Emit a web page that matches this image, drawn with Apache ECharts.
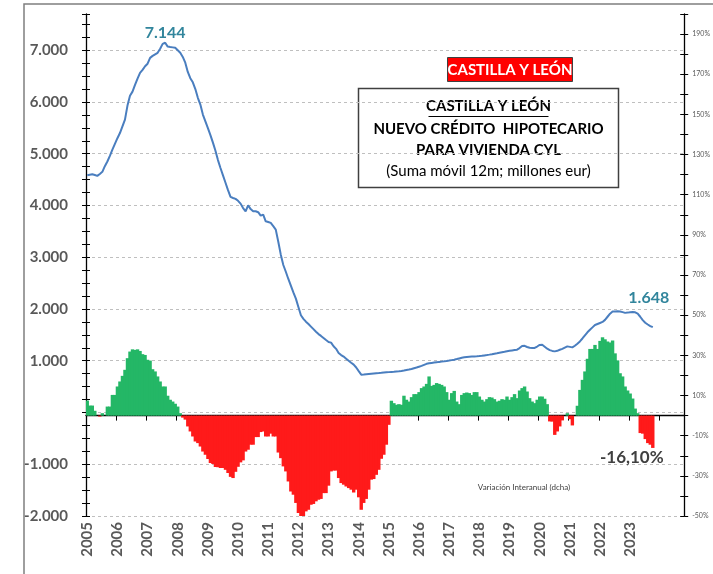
<!DOCTYPE html>
<html>
<head>
<meta charset="utf-8">
<script src="https://cdn.jsdelivr.net/npm/echarts@6/dist/echarts.min.js"></script>
<style>html,body{margin:0;padding:0;background:#fff}#chart{width:713px;height:574px}</style>
</head>
<body>
<div id="chart"></div>
<script>
// eje mensual ene-2005 .. oct-2024 (datos hasta oct-2023)
var months = [];
for (var y = 2005; y <= 2024; y++) {
	for (var m = 1; m <= 12; m++) {
		if (months.length < 238) months.push(y + '-' + (m < 10 ? '0' + m : m));
	}
}

// nuevo credito hipotecario, suma movil 12m (millones eur)
var credit = [
	4583,4595,4603,4590,4572,4610,4650,4760,4850,4960,5080,5190,
	5300,5400,5530,5660,5930,6120,6200,6330,6450,6563,6620,6690,
	6740,6853,6890,6920,6950,7030,7123,7144,7070,7062,7055,7046,
	7000,6950,6870,6760,6580,6460,6380,6250,6080,5950,5757,5626,
	5495,5360,5215,5059,4877,4725,4583,4440,4296,4166,4145,4127,
	4090,4036,3950,3888,4004,3930,3888,3888,3870,3804,3824,3694,
	3680,3663,3600,3534,3300,3050,2850,2720,2580,2450,2320,2200,
	2040,1880,1810,1755,1710,1660,1610,1560,1515,1480,1440,1400,
	1363,1350,1280,1230,1150,1110,1080,1040,1000,960,924,870,
	800,731,735,740,745,750,755,760,763,767,772,776,
	780,784,787,791,795,802,810,820,830,841,856,870,
	885,900,920,940,950,958,965,972,978,983,988,995,
	1003,1012,1021,1032,1045,1058,1066,1073,1077,1080,1082,1085,
	1090,1096,1103,1110,1118,1127,1137,1145,1154,1163,1172,1182,
	1192,1200,1207,1214,1245,1285,1288,1265,1250,1247,1247,1275,
	1305,1308,1270,1232,1205,1190,1181,1192,1212,1230,1255,1278,
	1268,1258,1290,1330,1374,1430,1490,1550,1600,1645,1690,1710,
	1730,1750,1790,1850,1910,1950,1952,1955,1953,1940,1925,1930,
	1938,1943,1935,1910,1850,1785,1735,1700,1670,1648
];

// variacion interanual (%), eje dcha
var variation = [
	7.5,5,5,2.4,0,-0.5,1.2,0,4.5,4.5,10.3,10.3,
	14.5,17,19.8,22.8,28.6,31.9,33,32.7,33,32.2,30.6,30.2,
	27.8,27.4,23.1,22,19.5,17,14.5,14.5,9.9,7.9,7,5.9,
	4.5,1.2,-1,-2,-5.4,-7.9,-10.4,-12.9,-13.7,-15.4,-17.9,-19.5,
	-21.6,-23.6,-24.1,-25.6,-25.7,-26.1,-26.1,-27,-28.6,-30.5,-31.1,-28,
	-25.5,-23.3,-22.3,-17.9,-17,-14.5,-14.5,-10.7,-10.7,-8.2,-7.9,-10.4,
	-10.4,-9,-10.4,-10.4,-18.4,-21.2,-25.3,-27.8,-32.8,-37.8,-39.4,-43.5,
	-48.5,-50.2,-51,-47.7,-46.9,-44.4,-44,-42.7,-41.9,-41.5,-38.6,-38.6,
	-34.9,-27.8,-27.4,-27.4,-31.1,-33.6,-34.4,-35.3,-36.1,-36.9,-38.3,-36.9,
	-40.7,-46.9,-43.5,-41.5,-36.9,-31.9,-31.6,-29.5,-27,-21.5,-19.5,-14.5,
	-4.6,7.4,6.2,5.4,5.7,5.4,9.9,7.9,7,9.2,10.7,10.7,
	11.7,13.7,14.5,15.8,19.5,14.8,15.3,16.2,15.8,15.3,14.5,11.7,
	7.9,11.2,12.3,7,5.7,10.3,11.2,11.5,11.2,10.3,11.7,11.7,
	9.5,7.9,7,8.2,9.2,9,8.2,7,7.4,8.2,7.9,9.5,
	7.9,9.2,10.7,8.7,12.5,13.7,14.5,12,8.7,7,6.2,7.9,
	9.5,9.5,8.4,5.7,-2.9,-3,-9.6,-7.9,-5.4,-2.4,0,1.2,
	-1.8,-4.9,0,4.9,12.8,17.8,22,28.3,33.2,33.2,35.2,33.2,
	37.2,39,38,36.9,36.4,37.4,31,27.5,21.1,19.5,14.5,12.5,
	11,8.5,3.5,1.2,-8.7,-9,-11.7,-13.7,-14.5,-16.1
];

function miles(v) {
	var s = String(Math.abs(v)).replace(/\B(?=(\d{3})+(?!\d))/g, '.');
	return (v < 0 ? '-' : '') + s;
}

var peakIdx = credit.indexOf(Math.max.apply(null, credit));
var last = credit.length - 1;
var FONT = 'Lato';

// ejes solo con marcas (cruzan la linea del eje)
function tickAxis(pos, min, max, step, inside) {
	return {
		type: 'value', position: pos, min: min, max: max, interval: step,
		axisLine: {show: false}, axisLabel: {show: false}, splitLine: {show: false},
		axisTick: {show: true, inside: inside, length: 4, lineStyle: {color: '#000', width: 1}}
	};
}

var myChart = echarts.init(document.getElementById('chart'));
var option = {
	animation: false,
	grid: {left: 86, right: 27, top: 14, bottom: 58},
	xAxis: [{
		type: 'category', data: months, position: 'bottom', boundaryGap: true,
		axisLine: {onZero: true, onZeroAxisIndex: 1, lineStyle: {color: '#000', width: 1.3}},
		axisTick: {show: true, length: 5, lineStyle: {color: '#000'},
			interval: function (i, v) { return i > 0 && v.slice(5) === '01'; }},
		axisLabel: {show: false},
		splitLine: {show: false}
	}, {
		type: 'category', data: months, position: 'bottom', boundaryGap: true,
		axisLine: {show: false, onZero: false}, axisTick: {show: false},
		axisLabel: {
			interval: function (i, v) { return v.slice(5) === '01' && +v.slice(0, 4) <= 2023; },
			formatter: function (v) { return v.slice(0, 4); },
			rotate: 90, margin: 6, fontFamily: FONT, fontWeight: 'bold', fontSize: 15, color: '#595959'
		}
	}],
	yAxis: [{
		type: 'value', position: 'left', min: -2000, max: 7700, interval: 1000,
		axisLine: {show: true, lineStyle: {color: '#000', width: 1.3}},
		axisTick: {show: false},
		axisLabel: {showMaxLabel: false, margin: 18, fontFamily: FONT, fontWeight: 'bold', fontSize: 15, color: '#595959',
			formatter: function (v) { return v === 0 ? '' : miles(v); }},
		splitLine: {show: true, showMaxLine: false, lineStyle: {color: '#BFBFBF', type: [3, 3], width: 1}}
	}, {
		type: 'value', position: 'right', min: -50, max: 200, interval: 20,
		axisLine: {show: true, lineStyle: {color: '#000', width: 1.3}},
		axisTick: {show: false},
		axisLabel: {showMaxLabel: false, margin: 8, fontFamily: FONT, fontSize: 7, color: '#595959',
			formatter: function (v) { return v + '%'; }},
		splitLine: {show: false}
	},
		tickAxis('left', -2000, 7700, 250, false),
		tickAxis('left', -2000, 7700, 250, true),
		tickAxis('right', -50, 200, 10, false),
		tickAxis('right', -50, 200, 10, true)
	],
	series: [{
		name: 'Variación Interanual (dcha)',
		type: 'bar', xAxisIndex: 0, yAxisIndex: 1,
		barWidth: 3.4,
		data: variation.map(function (v) {
			return {value: v, itemStyle: {color: v >= 0 ? '#24B766' : '#FF1A1A'}};
		}),
		markPoint: {
			symbol: 'circle', symbolSize: 0,
			label: {show: true, position: 'inside', offset: [-21, 10], fontFamily: FONT, fontWeight: 'bold', fontSize: 17, color: '#404040',
				formatter: function (p) { return p.value.toFixed(2).replace('.', ',') + '%'; }},
			data: [{coord: [months[last], variation[last]], value: variation[last]}]
		}
	}, {
		name: 'Crédito hipotecario',
		type: 'line', xAxisIndex: 0, yAxisIndex: 0,
		data: credit, symbol: 'none', z: 3,
		lineStyle: {color: '#4A7EBF', width: 2},
		markPoint: {
			symbol: 'circle', symbolSize: 0,
			label: {show: true, position: 'top', distance: 2, fontFamily: FONT, fontWeight: 'bold', fontSize: 16, color: '#31859C',
				formatter: function (p) { return miles(p.value); }},
			data: [
				{coord: [months[peakIdx], credit[peakIdx]], value: credit[peakIdx]},
				{coord: [months[last], credit[last]], value: credit[last], label: {offset: [-4, -19]}}
			]
		}
	}],
	graphic: [
		{type: 'polyline', shape: {points: [[24, 574], [24, 4], [713, 4]]}, style: {stroke: '#7F7F7F', lineWidth: 1.5, fill: null}},
		{type: 'rect', shape: {x: 447.5, y: 57.5, width: 125, height: 24}, style: {fill: '#FF0000', stroke: '#404040', lineWidth: 1}},
		{type: 'text', style: {text: 'CASTILLA Y LEÓN', x: 510, y: 70, align: 'center', verticalAlign: 'middle', fill: '#fff', font: 'bold 15px Lato'}},
		{type: 'rect', shape: {x: 358.5, y: 88.5, width: 260, height: 99}, style: {fill: '#fff', stroke: '#404040', lineWidth: 1.5}},
		{type: 'text', style: {text: 'CASTILLA Y LEÓN', x: 488.5, y: 106, align: 'center', verticalAlign: 'middle', fill: '#000', font: 'bold 15px Lato'}},
		{type: 'line', shape: {x1: 428.5, y1: 116.5, x2: 548.5, y2: 116.5}, style: {stroke: '#000', lineWidth: 1}},
		{type: 'text', style: {text: 'NUEVO CRÉDITO  HIPOTECARIO', x: 488.5, y: 129, align: 'center', verticalAlign: 'middle', fill: '#000', font: 'bold 15px Lato'}},
		{type: 'text', style: {text: 'PARA VIVIENDA CYL', x: 488.5, y: 150, align: 'center', verticalAlign: 'middle', fill: '#000', font: 'bold 15px Lato'}},
		{type: 'text', style: {text: '(Suma móvil 12m; millones eur)', x: 488.5, y: 171, align: 'center', verticalAlign: 'middle', fill: '#000', font: '15px Lato'}},
		{type: 'text', style: {text: 'Variación Interanual (dcha)', x: 524, y: 487, align: 'center', verticalAlign: 'middle', fill: '#404040', font: '8px Lato'}}
	]
};
myChart.setOption(option);
</script>
</body>
</html>
